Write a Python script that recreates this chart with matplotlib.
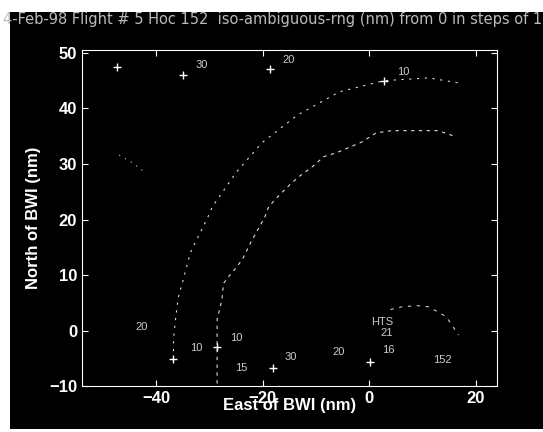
import matplotlib.pyplot as plt
from matplotlib.patches import Rectangle

# iso-ambiguous range ring (outer)
ring_x = [-36.8, -36.8, -36.3, -35.9, -35.1, -33.6, -30.3, -29.5, -25.0, -20.2, -13.5, -5.6, 2.8, 11.2, 16.8]
ring_y = [-5.1, -1.4, 3.0, 6.0, 8.7, 14.1, 20.5, 22.3, 28.5, 33.8, 38.8, 43.0, 45.0, 45.5, 44.6]

# inner track
track_x = [-28.6, -28.6, -28.6, -27.7, -27.4, -25.8, -25.0, -23.7, -22.2, -19.6, -18.9, -17.4,
           -14.8, -13.1, -10.3, -8.6, -6.2, -1.3, 1.3, 4.3, 8.4, 13.0, 16.3]
track_y = [-9.5, -3.0, 2.0, 5.5, 8.5, 10.5, 11.3, 13.1, 16.0, 20.5, 22.3, 23.9,
           26.4, 27.8, 29.8, 31.3, 32.0, 34.0, 35.6, 36.0, 36.0, 36.0, 34.9]

# small ring near BWI
small_x = [4.0, 6.2, 9.0, 11.2, 14.5, 16.8]
small_y = [3.8, 4.3, 4.5, 4.3, 2.5, -0.8]

# short segments upper left
seg1_x = [-47.0, -44.5, -42.0]
seg1_y = [31.6, 30.2, 28.4]

# plus markers
plus_x = [-35.0, -18.7, 2.8, -36.8, -28.6, -18.1, 0.2, -47.5]
plus_y = [46.0, 47.1, 45.0, -5.1, -3.0, -6.8, -5.7, 47.5]

# annotations
lab_text = ['30', '20', '10', '10', '20', '10', '15', '30', '20', '16', '152', 'HTS', '21']
lab_x = [-32.6, -16.3, 5.2, -33.6, -43.9, -26.2, -25.2, -15.9, -6.9, 2.4, 12.1, 0.3, 2.2]
lab_y = [47.8, 48.7, 46.6, -3.2, 0.6, -1.4, -6.8, -4.8, -3.9, -3.5, -5.3, 1.5, -0.5]

title = '4-Feb-98 Flight # 5 Hoc 152  iso-ambiguous-rng (nm) from 0 in steps of 10'

plt.rcParams['font.family'] = ['Liberation Sans', 'DejaVu Sans']

fig = plt.figure(figsize=(5.43, 4.32), dpi=100, facecolor='white')
fig.patches.append(Rectangle((10 / 543, 3 / 432), 1, 1 - 15 / 432, transform=fig.transFigure,
                             facecolor='black', edgecolor='none', zorder=-5))

ax = fig.add_axes([0.151, 0.106, 0.764, 0.778])
ax.set_facecolor('black')

ax.plot(ring_x, ring_y, color='#dddddd', lw=0.8, linestyle=(0, (2, 5)))
ax.plot(track_x, track_y, color='#dddddd', lw=0.8, linestyle=(0, (3, 4)))
ax.plot(small_x, small_y, color='#cccccc', lw=0.8, linestyle=(0, (3, 5)))
ax.plot(seg1_x, seg1_y, color='#cccccc', lw=0.8, linestyle=(0, (1, 5)))
ax.plot(plus_x, plus_y, '+', color='white', ms=6, mew=1)

for t, x, y in zip(lab_text, lab_x, lab_y):
    ax.text(x, y, t, color='#cccccc', fontsize=8, va='center', ha='left')

ax.set_xlim(-54, 24)
ax.set_ylim(-10, 50.5)
ax.set_xticks([-40, -20, 0, 20])
ax.set_yticks([-10, 0, 10, 20, 30, 40, 50])
ax.tick_params(direction='in', colors='white', length=4, labelsize=12,
               top=True, right=True)
for lbl in ax.get_xticklabels() + ax.get_yticklabels():
    lbl.set_fontweight('bold')
for s in ax.spines.values():
    s.set_color('white')
    s.set_linewidth(0.8)

ax.set_xlabel('East of BWI (nm)', color='white', fontsize=12, fontweight='bold', labelpad=-6)
ax.set_ylabel('North of BWI (nm)', color='white', fontsize=12, fontweight='bold', labelpad=6)

fig.text(0.005, 0.955, title, color='#bbbbbb', fontsize=10.5, va='center', ha='left',
         family='DejaVu Sans')

fig.savefig('out.png', dpi=100, facecolor=fig.get_facecolor())
